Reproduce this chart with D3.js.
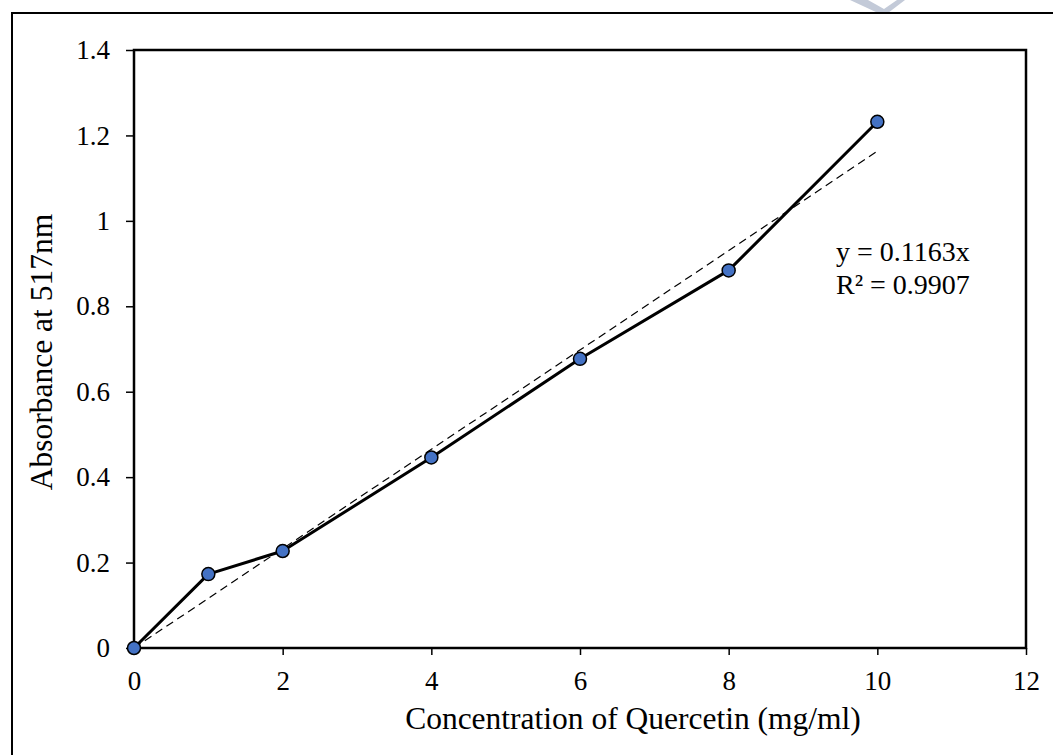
<!DOCTYPE html>
<html>
<head>
<meta charset="utf-8">
<script src="https://cdn.jsdelivr.net/npm/d3@7"></script>
<style>
  body { margin: 0; background: #fff; }
  svg { display: block; font-family: "Liberation Serif", "Times New Roman", serif; }
</style>
</head>
<body>
<svg id="chart"></svg>
<script>
// data
const concentrations = [0, 1, 2, 4, 6, 8, 10];
const absorbance = [0, 0.173, 0.227, 0.446, 0.677, 0.884, 1.232];
const slope = 0.1163;
const rSquared = "0.9907";
const xTicks = [0, 2, 4, 6, 8, 10, 12];
const yTicks = [0, 0.2, 0.4, 0.6, 0.8, 1, 1.2, 1.4];

const width = 1053, height = 755;
const margin = { top: 50, right: 27, bottom: 107, left: 134 };

const svg = d3.select("#chart")
    .attr("width", width)
    .attr("height", height);

// watermark fragment at the top edge
svg.append("path")
    .attr("d", "M850,0 L868,0 L884,9 L897,0 L905,0 L888,13 L878,13 Z")
    .attr("fill", "#c3cad8");

// outer frame (runs off the right and bottom edges)
svg.append("rect")
    .attr("x", 12).attr("y", 13)
    .attr("width", 1060).attr("height", 760)
    .attr("fill", "none")
    .attr("stroke", "#000")
    .attr("stroke-width", 2);

const x = d3.scaleLinear()
    .domain([0, 12])
    .range([margin.left, width - margin.right]);

const y = d3.scaleLinear()
    .domain([0, 1.4])
    .range([height - margin.bottom, margin.top]);

// plot box
svg.append("rect")
    .attr("x", x(0)).attr("y", y(1.4))
    .attr("width", x(12) - x(0)).attr("height", y(0) - y(1.4))
    .attr("fill", "none")
    .attr("stroke", "#000")
    .attr("stroke-width", 2.5);

const xAxis = svg.append("g")
    .attr("transform", `translate(0,${y(0)})`)
    .call(d3.axisBottom(x).tickValues(xTicks).tickSize(7).tickPadding(16).tickFormat(d3.format("d")));
xAxis.select(".domain").remove();
xAxis.selectAll("line").attr("stroke-width", 1.5);
xAxis.selectAll("text")
    .attr("font-size", 27)
    .attr("font-family", "Liberation Serif")
    .attr("fill", "#000");

const yAxis = svg.append("g")
    .attr("transform", `translate(${x(0)},0)`)
    .call(d3.axisLeft(y).tickValues(yTicks).tickSize(8).tickPadding(16).tickFormat(d => d3.format("")(+d.toFixed(1))));
yAxis.select(".domain").remove();
yAxis.selectAll("line").attr("stroke-width", 1.5);
yAxis.selectAll("text")
    .attr("font-size", 27)
    .attr("font-family", "Liberation Serif")
    .attr("fill", "#000");

// linear trendline through origin
svg.append("line")
    .attr("x1", x(0)).attr("y1", y(0))
    .attr("x2", x(10)).attr("y2", y(slope * 10))
    .attr("stroke", "#000")
    .attr("stroke-width", 1.2)
    .attr("stroke-dasharray", "8,5");

const pts = concentrations.map((c, i) => [c, absorbance[i]]);

svg.append("path")
    .datum(pts)
    .attr("fill", "none")
    .attr("stroke", "#000")
    .attr("stroke-width", 3)
    .attr("stroke-linejoin", "round")
    .attr("d", d3.line().x(d => x(d[0])).y(d => y(d[1])));

svg.selectAll("circle.pt")
    .data(pts)
    .join("circle")
    .attr("class", "pt")
    .attr("cx", d => x(d[0]))
    .attr("cy", d => y(d[1]))
    .attr("r", 6.5)
    .attr("fill", "#4472C4")
    .attr("stroke", "#000")
    .attr("stroke-width", 1.5);

// equation label
svg.append("text")
    .attr("x", 836).attr("y", 261)
    .attr("font-size", 28)
    .text(`y = ${slope}x`);
svg.append("text")
    .attr("x", 836).attr("y", 294)
    .attr("font-size", 28)
    .text(`R² = ${rSquared}`);

// axis titles
svg.append("text")
    .attr("x", 633)
    .attr("y", 729)
    .attr("text-anchor", "middle")
    .attr("font-size", 31.5)
    .text("Concentration of Quercetin (mg/ml)");

svg.append("text")
    .attr("transform", `translate(52,352) rotate(-90)`)
    .attr("text-anchor", "middle")
    .attr("font-size", 31.5)
    .text("Absorbance at 517nm");
</script>
</body>
</html>
